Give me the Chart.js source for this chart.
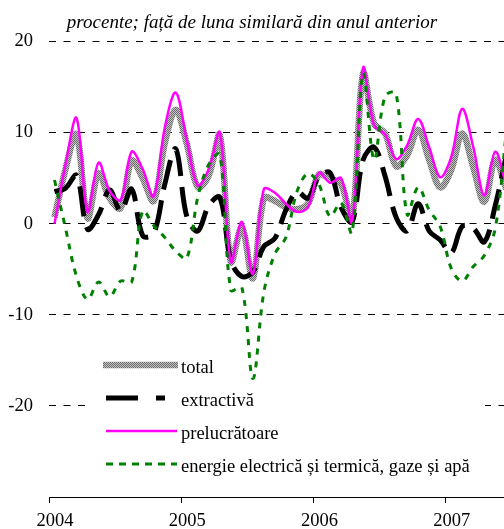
<!DOCTYPE html>
<html><head><meta charset="utf-8">
<script src="https://cdn.jsdelivr.net/npm/chart.js@4/dist/chart.umd.min.js"></script>
<style>html,body{margin:0;padding:0;background:#fff;overflow:hidden}</style>
</head><body>
<canvas id="c" width="504" height="529"></canvas>
<script>
// ---- data ----
const months = [
 '2004-01','2004-02','2004-03','2004-04','2004-05','2004-06','2004-07','2004-08','2004-09','2004-10','2004-11','2004-12',
 '2005-01','2005-02','2005-03','2005-04','2005-05','2005-06','2005-07','2005-08','2005-09','2005-10','2005-11','2005-12',
 '2006-01','2006-02','2006-03','2006-04','2006-05','2006-06','2006-07','2006-08','2006-09','2006-10','2006-11','2006-12',
 '2007-01','2007-02','2007-03','2007-04','2007-05','2007-06'];
const yearLabels = ['2004','2005','2006','2007'];
const yTickValues = [20, 10, 0, -10, -20];
const seriesNames = ['total','extractivă','prelucrătoare','energie electrică și termică, gaze și apă'];
const titleText = 'procente; față de luna similară din anul anterior';

const total = [0.7,6.0,9.8,0.6,5.5,2.8,1.7,6.9,5.0,2.5,8.8,12.5,
 8.8,4.0,5.3,9.7,-4.2,-0.4,-6.0,2.8,2.5,1.8,1.6,2.2,
 5.4,4.9,4.4,0.4,16.5,11.0,9.9,6.3,7.5,10.3,7.0,4.0,
 5.9,9.9,6.2,2.4,7.0,3.8];
const extractiva = [3.5,3.9,5.3,-0.6,1.0,3.7,1.4,3.8,-1.3,-1.1,4.3,8.2,
 0.8,-0.8,2.0,2.9,-4.0,-5.8,-5.3,-2.5,-1.6,1.5,3.5,2.8,
 5.2,5.6,1.8,0.2,7.0,8.4,5.2,0.7,-0.8,2.2,-0.8,-1.8,
 -3.2,-0.3,-0.5,-2.0,2.0,7.5];
const prelucratoare = [0.0,6.5,11.6,1.3,6.7,3.6,2.6,7.9,6.0,3.0,10.5,14.4,
 9.2,4.2,6.0,10.0,-4.2,0.2,-5.5,3.8,3.4,2.2,1.3,1.8,
 5.6,4.5,5.0,0.2,17.1,10.8,9.8,7.1,8.6,11.5,8.4,5.1,
 7.3,12.6,8.4,3.1,7.9,4.2];
const energie = [4.8,-0.5,-5.8,-8.3,-6.4,-8.0,-6.3,-6.4,1.4,-0.2,-1.5,-3.0,
 -3.8,2.9,6.5,7.6,-7.3,-7.0,-17.0,-7.5,-3.3,-1.5,3.5,5.5,
 4.3,0.8,2.3,-1.0,16.5,7.0,14.0,14.3,1.0,4.0,1.5,-0.3,
 -4.9,-6.3,-4.7,-3.5,-0.5,10.0];

// ---- helpers ----
const SERIF = '"Liberation Serif", "Times New Roman", serif';
const toPts = arr => arr.map((v, i) => ({x: i, y: v}));
const canvas = document.getElementById('c');
function grayPattern() {
  const p = document.createElement('canvas'); p.width = 2; p.height = 2;
  const g = p.getContext('2d');
  g.fillStyle = '#c4c4c4'; g.fillRect(0, 0, 2, 2);
  g.fillStyle = '#6a6a6a'; g.fillRect(0, 0, 1, 1); g.fillRect(1, 1, 1, 1);
  return canvas.getContext('2d').createPattern(p, 'repeat');
}
const pat = grayPattern();

const common = {pointRadius: 0, pointHoverRadius: 0, fill: false, tension: 0.35, borderCapStyle: 'butt', borderJoinStyle: 'round'};

const insideLegend = {
  id: 'insideLegend',
  beforeDatasetsDraw(chart) {
    const a = chart.chartArea, ctx = chart.ctx;
    ctx.save(); ctx.fillStyle = '#fff';
    ctx.fillRect(a.left + 39, a.top + 307, 397, 132);
    ctx.restore();
  },
  afterDatasetsDraw(chart) {
    const a = chart.chartArea, ctx = chart.ctx;
    ctx.save();
    chart.data.datasets.forEach((ds, i) => {
      const y = a.top + 323.5 + i * 33;
      ctx.beginPath();
      ctx.lineWidth = ds.borderWidth;
      ctx.strokeStyle = ds.borderColor;
      ctx.setLineDash(ds.legendDash || ds.borderDash || []);
      ctx.lineCap = 'butt';
      const x0 = a.left + (ds.legendX0 !== undefined ? ds.legendX0 : 57);
      const x1 = a.left + (ds.legendX1 !== undefined ? ds.legendX1 : 128);
      ctx.moveTo(x0, y); ctx.lineTo(x1, y); ctx.stroke();
      ctx.setLineDash([]);
      ctx.fillStyle = '#000';
      ctx.font = '18.5px ' + SERIF;
      ctx.textBaseline = 'alphabetic'; ctx.textAlign = 'left';
      ctx.fillText(ds.label, a.left + 132, y + 8);
    });
    ctx.restore();
  }
};

new Chart(canvas, {
  type: 'line',
  data: {
    datasets: [
      Object.assign({}, common, {label: seriesNames[0], data: toPts(total), borderColor: pat, borderWidth: 6.5, order: 4, legendX0: 54, legendX1: 129}),
      Object.assign({}, common, {label: seriesNames[1], data: toPts(extractiva), borderColor: '#000', borderWidth: 5, borderDash: [30, 11], legendDash: [32, 18], legendX1: 116, order: 3}),
      Object.assign({}, common, {label: seriesNames[2], data: toPts(prelucratoare), borderColor: '#ff00ff', borderWidth: 2.5, order: 2}),
      Object.assign({}, common, {label: seriesNames[3], data: toPts(energie), borderColor: '#008000', borderWidth: 3, borderDash: [6, 7], legendDash: [7, 6], order: 1})
    ]
  },
  options: {
    responsive: false, animation: false, devicePixelRatio: 1,
    layout: {padding: 0},
    events: [],
    plugins: {
      legend: {display: false},
      tooltip: {enabled: false},
      title: {display: true, text: titleText, color: '#000',
        font: {family: SERIF, size: 19, style: 'italic', weight: 'normal', lineHeight: 1.2},
        padding: {top: 11.5, bottom: 7.2}}
    },
    scales: {
      x: {
        type: 'linear', min: -0.5, max: 40.79,
        afterBuildTicks: s => { s.ticks = yearLabels.map((_, k) => ({value: k * 12 - 0.5})); },
        afterFit: s => { s.height = 32; },
        ticks: {autoSkip: false, maxRotation: 0, padding: 7.4, labelOffset: 6, color: '#000',
          font: {family: SERIF, size: 18.5, lineHeight: 1.2},
          callback: v => { const k = Math.round((v + 0.5) / 12); return yearLabels[k] !== undefined ? yearLabels[k] : ''; }},
        grid: {drawOnChartArea: false, drawTicks: true, tickLength: 6, tickColor: '#000', color: '#000', tickWidth: 1},
        border: {display: true, color: '#000', width: 1}
      },
      y: {
        min: -30, max: 20,
        afterBuildTicks: s => { s.ticks = yTickValues.concat([-30]).map(v => ({value: v})); },
        afterFit: s => { s.width = 49; },
        ticks: {color: '#000', padding: 16, font: {family: SERIF, size: 18.5, lineHeight: 1.2},
          callback: v => yTickValues.includes(v) ? String(v) : ''},
        grid: {drawTicks: false, lineWidth: 1,
          color: c => (c.tick && c.tick.value === -30) ? 'rgba(0,0,0,0)' : '#000'},
        border: {display: false, dash: [7, 7.5]}
      }
    }
  },
  plugins: [insideLegend]
});
</script>
</body></html>
